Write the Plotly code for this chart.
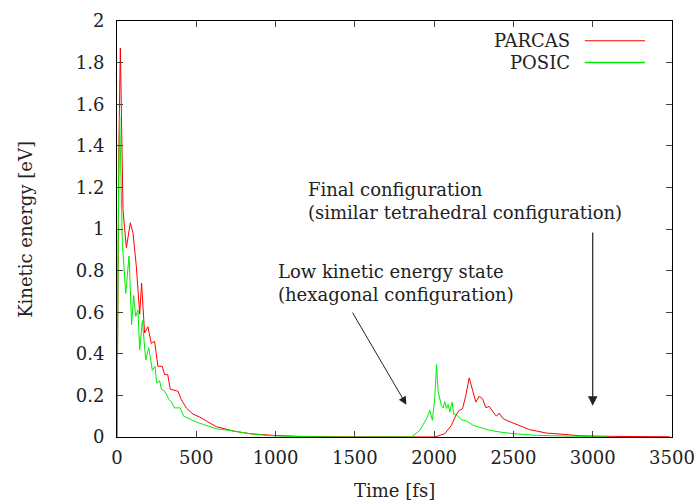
import plotly.graph_objects as go

# PARCAS series
parcas_t = [0, 5, 12, 21, 30, 38, 59, 84, 101, 122, 143, 155, 174, 195, 216, 237, 258, 285, 300, 320, 336, 385, 405, 437, 479, 521, 563, 626, 731, 836, 983, 1150, 1400, 1700, 2004,
            2067, 2109, 2137, 2158, 2179, 2200, 2221, 2242, 2263, 2284, 2305, 2326, 2347, 2372, 2393, 2410, 2435, 2466, 2498, 2540, 2565, 2603, 2645, 2708, 2813, 2918, 3129, 3486]
parcas_v = [0, 0.9, 1.4, 1.87, 1.35, 1.09, 0.91, 1.03, 0.98, 0.82, 0.59, 0.74, 0.50, 0.53, 0.45, 0.46, 0.34, 0.34, 0.30, 0.30, 0.23, 0.22, 0.18, 0.14, 0.11, 0.096, 0.077, 0.05, 0.029, 0.016, 0.008, 0.003, 0.001, 0.0, 0.0,
            0.016, 0.056, 0.104, 0.128, 0.136, 0.20, 0.284, 0.224, 0.168, 0.196, 0.184, 0.141, 0.147, 0.12, 0.10, 0.115, 0.088, 0.077, 0.067, 0.056, 0.048, 0.035, 0.029, 0.019, 0.013, 0.006, 0.003, 0.001]

# POSIC series
posic_t = [0, 5, 10, 17, 25, 34, 55, 76, 92, 105, 118, 132, 143, 160, 181, 200, 223, 240, 250, 269, 280, 301, 328, 343, 361, 399, 420, 454, 500, 546, 588, 626, 731, 836, 941, 1068, 1400, 1857,
           1910, 1952, 1973, 1989, 2004, 2015, 2025, 2036, 2046, 2057, 2067, 2078, 2088, 2099, 2113, 2124, 2145, 2172, 2204, 2246, 2288, 2351, 2414, 2498, 2645, 2876, 3100]
posic_v = [0, 0.7, 1.2, 1.54, 1.2, 0.93, 0.69, 0.87, 0.54, 0.68, 0.58, 0.61, 0.42, 0.56, 0.37, 0.43, 0.32, 0.34, 0.26, 0.27, 0.23, 0.22, 0.18, 0.17, 0.14, 0.14, 0.10, 0.088, 0.072, 0.06, 0.048, 0.04, 0.029, 0.016, 0.008, 0.003, 0.0, 0.0,
           0.032, 0.088, 0.128, 0.08, 0.19, 0.348, 0.22, 0.18, 0.15, 0.14, 0.17, 0.136, 0.157, 0.12, 0.168, 0.109, 0.104, 0.083, 0.077, 0.056, 0.045, 0.032, 0.024, 0.016, 0.008, 0.003, 0.0]

x_ticks = [0, 500, 1000, 1500, 2000, 2500, 3000, 3500]
y_ticks = [0, 0.2, 0.4, 0.6, 0.8, 1, 1.2, 1.4, 1.6, 1.8, 2]
y_tick_labels = ["0", "0.2", "0.4", "0.6", "0.8", "1", "1.2", "1.4", "1.6", "1.8", "2"]

FONT = "'DejaVu Serif', serif"
FS = 18
TXT = "#222"
RED = "#ff0000"
GREEN = "#00ee00"

fig = go.Figure()
fig.add_trace(go.Scatter(x=parcas_t, y=parcas_v, mode="lines", name="PARCAS",
                         line=dict(color=RED, width=1)))
fig.add_trace(go.Scatter(x=posic_t, y=posic_v, mode="lines", name="POSIC",
                         line=dict(color=GREEN, width=1)))

axis_common = dict(showgrid=False, zeroline=False, showline=True, linecolor="black", linewidth=1,
                   mirror="allticks", ticks="inside", ticklen=6, tickcolor="#444", automargin=False,
                   tickfont=dict(family=FONT, size=FS, color=TXT))
fig.update_xaxes(range=[0, 3500], tickvals=x_ticks, ticktext=[str(v) for v in x_ticks], ticklabelstandoff=4,
                 **axis_common)
fig.update_yaxes(range=[0, 2], tickvals=y_ticks, ticktext=y_tick_labels, ticklabelstandoff=8,
                 **axis_common)

# axis titles
fig.add_annotation(x=-0.166, y=0.5, xref="paper", yref="paper", xanchor="center", yanchor="middle",
                   textangle=-90, showarrow=False, text="Kinetic energy [eV]",
                   font=dict(family=FONT, size=FS, color=TXT))
fig.add_annotation(x=0.5, y=-0.128, xref="paper", yref="paper", xanchor="center", yanchor="middle",
                   showarrow=False, text="Time [fs]", font=dict(family=FONT, size=FS, color=TXT))

# annotations with arrows
fig.add_annotation(x=3000, y=0.15, ax=3000, ay=0.99, xref="x", yref="y", axref="x", ayref="y",
                   showarrow=True, arrowhead=2, arrowsize=1.6, arrowwidth=1.2, arrowcolor=TXT, text="")
fig.add_annotation(x=1825, y=0.155, ax=1480, ay=0.605, xref="x", yref="y", axref="x", ayref="y",
                   showarrow=True, arrowhead=2, arrowsize=1.6, arrowwidth=1, arrowcolor=TXT, text="")
fig.add_annotation(x=1195, y=1.25, xref="x", yref="y", xanchor="left", yanchor="top", showarrow=False,
                   align="left", text="Final configuration<br>(similar tetrahedral configuration)",
                   font=dict(family=FONT, size=FS, color=TXT))
fig.add_annotation(x=1000, y=0.855, xref="x", yref="y", xanchor="left", yanchor="top", showarrow=False,
                   align="left", text="Low kinetic energy state<br>(hexagonal configuration)",
                   font=dict(family=FONT, size=FS, color=TXT))

# custom gnuplot-style legend (text left, sample right)
fig.add_annotation(x=2870, y=1.905, xref="x", yref="y", xanchor="right", yanchor="middle", showarrow=False,
                   text="PARCAS", font=dict(family=FONT, size=FS, color=TXT))
fig.add_annotation(x=2870, y=1.80, xref="x", yref="y", xanchor="right", yanchor="middle", showarrow=False,
                   text="POSIC", font=dict(family=FONT, size=FS, color=TXT))
fig.add_shape(type="line", x0=2950, x1=3330, y0=1.905, y1=1.905, xref="x", yref="y", line=dict(color=RED, width=1))
fig.add_shape(type="line", x0=2950, x1=3330, y0=1.80, y1=1.80, xref="x", yref="y", line=dict(color=GREEN, width=1.5))

fig.update_layout(width=699, height=503, margin=dict(l=117, r=27, t=21, b=66),
                  paper_bgcolor="white", plot_bgcolor="white", showlegend=False)
fig.write_html("out.html")
